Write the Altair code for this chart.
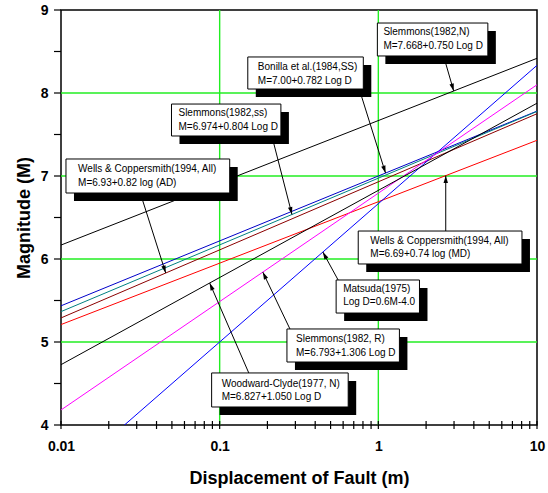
import math
import altair as alt
import pandas as pd

# Plot area size (pixels) and axis domains
PLOT_W, PLOT_H = 476, 415
D_MIN, D_MAX = 0.01, 10
M_MIN, M_MAX = 4, 9
FONT = "Liberation Sans"
TICK_LEN = 7

# Empirical magnitude / displacement relations, M = a + b * log10(D)
series = [
    "Slemmons(1982,N)",
    "Bonilla et al.(1984,SS)",
    "Slemmons(1982,ss)",
    "Wells & Coppersmith(1994, All) AD",
    "Wells & Coppersmith(1994, All) MD",
    "Matsuda(1975)",
    "Slemmons(1982, R)",
    "Woodward-Clyde(1977, N)",
]
intercepts = [7.668, 7.00, 6.974, 6.93, 6.69, 4.0 / 0.6, 6.793, 6.827]
slopes = [0.750, 0.782, 0.804, 0.82, 0.74, 1 / 0.6, 1.306, 1.050]  # Matsuda: log D = 0.6M - 4.0
colors = ["#000000", "#0000c8", "#008080", "#8b0000", "#ff0000", "#0000ff", "#ff00ff", "#000000"]

# Axis ticks and grid positions
x_ticks = [round(m * 10 ** e, 3) for e in (-2, -1, 0) for m in range(1, 10)] + [10]
y_ticks = [4, 4.5, 5, 5.5, 6, 6.5, 7, 7.5, 8, 8.5, 9]
grid_x = [0.1, 1]
grid_y = [5, 6, 7, 8]

# Annotation callouts (data coordinates)
box_line1 = [
    "Slemmons(1982,N)",
    "Bonilla et al.(1984,SS)",
    "Slemmons(1982,ss)",
    "Wells & Coppersmith(1994, All)",
    "Wells & Coppersmith(1994, All)",
    "Matsuda(1975)",
    "Slemmons(1982, R)",
    "Woodward-Clyde(1977, N)",
]
box_line2 = [
    "M=7.668+0.750 Log D",
    "M=7.00+0.782 Log D",
    "M=6.974+0.804 Log D",
    "M=6.93+0.82 log (AD)",
    "M=6.69+0.74 log (MD)",
    "Log D=0.6M-4.0",
    "M=6.793+1.306 Log D",
    "M=6.827+1.050 Log D",
]
box_d0 = [0.986, 0.1504, 0.0497, 0.01075, 0.747, 0.542, 0.2655, 0.0890]
box_d1 = [4.90, 0.804, 0.2432, 0.1157, 8.04, 1.817, 1.358, 0.6457]
box_m0 = [8.843, 8.434, 7.867, 7.205, 6.337, 5.747, 5.157, 4.627]
box_m1 = [8.446, 8.048, 7.482, 6.795, 5.940, 5.349, 4.759, 4.217]
text_d = [1.076, 0.174, 0.0550, 0.01281, 0.890, 0.600, 0.3027, 0.1030]
text_m = [8.73, 8.313, 7.759, 7.084, 6.217, 5.639, 5.036, 4.494]
arrow_d = [2.578, 0.758, 0.2133, 0.0316, 2.66, 0.558, 0.2773, 0.1526]
arrow_m = [8.446, 8.048, 7.482, 6.795, 6.337, 5.747, 5.157, 4.627]
tip_d = [2.985, 1.11, 0.2856, 0.0457, 2.66, 0.447, 0.187, 0.0865]

LOG_SPAN = math.log10(D_MAX) - math.log10(D_MIN)


def px(d):
    return (math.log10(d) - math.log10(D_MIN)) / LOG_SPAN * PLOT_W


def py(m):
    return (M_MAX - m) / (M_MAX - M_MIN) * PLOT_H


lines = pd.DataFrame(
    [
        {"series": s, "D": d, "M": a + b * math.log10(d)}
        for s, a, b in zip(series, intercepts, slopes)
        for d in (D_MIN, D_MAX)
    ]
)

rows = []
for i in range(len(box_line1)):
    tm = intercepts[i] + slopes[i] * math.log10(tip_d[i])
    dx = px(tip_d[i]) - px(arrow_d[i])
    dy = py(tm) - py(arrow_m[i])
    ang = math.degrees(math.atan2(dx, -dy)) % 360
    rows.append(
        {
            "l1": box_line1[i], "l2": box_line2[i],
            "d0": box_d0[i], "d1": box_d1[i], "m0": box_m0[i], "m1": box_m1[i],
            "td": text_d[i], "tm": text_m[i],
            "ad": arrow_d[i], "am": arrow_m[i],
            "hd": tip_d[i], "hm": tm, "ang": ang,
        }
    )
boxes = pd.DataFrame(rows)

# Tick segments in data units: left ticks reach TICK_LEN px outside the frame,
# bottom ticks cross the frame by 4 px on each side
d_tick_out = D_MIN * 10 ** (-TICK_LEN / PLOT_W * LOG_SPAN)
m_half = 4 / PLOT_H * (M_MAX - M_MIN)
yt = pd.DataFrame({"M": y_ticks, "Da": d_tick_out, "Db": D_MIN})
xt = pd.DataFrame({"D": x_ticks, "Ma": M_MIN - m_half, "Mb": M_MIN + m_half})

xs = alt.Scale(type="log", domain=[D_MIN, D_MAX])
ys = alt.Scale(domain=[M_MIN, M_MAX])

x_label_expr = (
    "datum.value == 0.01 ? '0.01' : datum.value == 0.1 ? '0.1' : "
    "datum.value == 1 ? '1' : datum.value == 10 ? '10' : ''"
)

x_axis = alt.Axis(
    values=x_ticks, labelExpr=x_label_expr, title="Displacement of Fault (m)",
    grid=False, domain=False, ticks=False, labelPadding=14,
    labelFont=FONT, labelFontSize=14, labelFontWeight="bold", labelColor="black",
    labelOverlap=False, labelFlush=False,
    titleFont=FONT, titleFontSize=18, titleFontWeight="bold", titleColor="black",
    titlePadding=16,
)
y_axis = alt.Axis(
    values=y_ticks, labelExpr="datum.value % 1 == 0 ? format(datum.value, 'd') : ''",
    title="Magnitude (M)", grid=False, domain=False, ticks=False, labelPadding=13,
    labelFont=FONT, labelFontSize=14, labelFontWeight="bold",
    labelColor="black", labelOverlap=False, labelFlush=False,
    titleFont=FONT, titleFontSize=18, titleFontWeight="bold", titleColor="black",
    titlePadding=7,
)


def X(field):
    return alt.X(field, scale=xs, axis=x_axis)


def Y(field):
    return alt.Y(field, scale=ys, axis=y_axis)


grid_v = alt.Chart(pd.DataFrame({"D": grid_x})).mark_rule(
    color="#22ee22", strokeWidth=1.4
).encode(x=X("D:Q"))
grid_h = alt.Chart(pd.DataFrame({"M": grid_y})).mark_rule(
    color="#22ee22", strokeWidth=1.4
).encode(y=Y("M:Q"))

ticks_x = alt.Chart(xt).mark_rule(color="black", strokeWidth=1.2, clip=False).encode(
    x=X("D:Q"), x2="D:Q", y=Y("Ma:Q"), y2="Mb:Q"
)
ticks_y = alt.Chart(yt).mark_rule(color="black", strokeWidth=1.2, clip=False).encode(
    x=X("Da:Q"), x2="Db:Q", y=Y("M:Q"), y2="M:Q"
)

curves = alt.Chart(lines).mark_line(clip=True, strokeWidth=1).encode(
    x=X("D:Q"),
    y=Y("M:Q"),
    color=alt.Color("series:N", scale=alt.Scale(domain=series, range=colors), legend=None),
    detail="series:N",
)

base = alt.Chart(boxes)
arrows = base.mark_rule(color="black", strokeWidth=1).encode(
    x=X("ad:Q"), y=Y("am:Q"), x2="hd:Q", y2="hm:Q",
)
heads = base.mark_point(
    shape="M0,0L-0.3,1L0.3,1Z", filled=True, color="black", opacity=1, size=220
).encode(
    x=X("hd:Q"), y=Y("hm:Q"), angle=alt.Angle("ang:Q", scale=None),
)
shadows = base.mark_rect(
    color="black", xOffset=8, x2Offset=8, yOffset=8, y2Offset=8
).encode(
    x=X("d0:Q"), x2="d1:Q", y=Y("m0:Q"), y2="m1:Q",
)
frames = base.mark_rect(fill="white", stroke="black", strokeWidth=1).encode(
    x=X("d0:Q"), x2="d1:Q", y=Y("m0:Q"), y2="m1:Q",
)
text1 = base.mark_text(
    align="left", baseline="middle", font=FONT, fontSize=10, color="black"
).encode(x=X("td:Q"), y=Y("tm:Q"), text="l1:N")
text2 = base.mark_text(
    align="left", baseline="middle", font=FONT, fontSize=10, color="black", dy=13.5
).encode(x=X("td:Q"), y=Y("tm:Q"), text="l2:N")

chart = (
    alt.layer(grid_v, grid_h, curves, arrows, shadows, frames, text1, text2, heads,
              ticks_x, ticks_y)
    .properties(
        width=PLOT_W, height=PLOT_H,
        autosize=alt.AutoSizeParams(type="none"),
        padding={"left": 61, "top": 10, "right": 11, "bottom": 68},
        background="white",
    )
    .configure_view(stroke="black", strokeWidth=1.5)
)

chart.save("out.html", embed_options={"renderer": "svg", "actions": False})
